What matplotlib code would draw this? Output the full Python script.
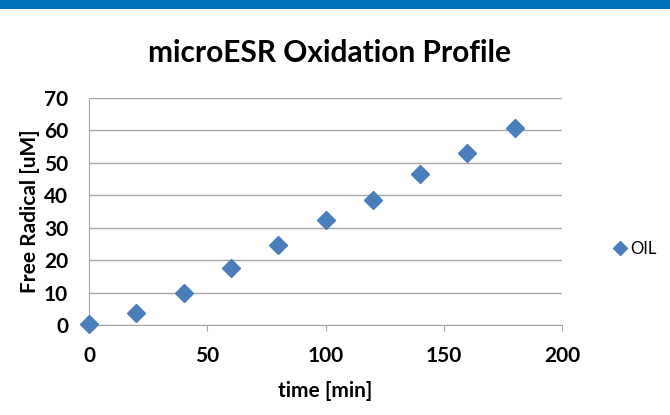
import matplotlib
matplotlib.use("Agg")
import matplotlib.pyplot as plt
from matplotlib.patches import Rectangle

time_min = [0, 20, 40, 60, 80, 100, 120, 140, 160, 180]
free_radical = [0.3, 3.7, 9.9, 17.6, 24.7, 32.3, 38.7, 46.6, 53.0, 60.8]
series_name = "OIL"
x_ticks = [0, 50, 100, 150, 200]
y_ticks = [0, 10, 20, 30, 40, 50, 60, 70]

plt.rcParams['font.family'] = ['Lato', 'DejaVu Sans']

fig = plt.figure(figsize=(6.7, 4.15), dpi=100)
fig.patch.set_facecolor('white')
# top blue bar
fig.patches.append(Rectangle((0, 1 - 9/415), 1, 9/415, transform=fig.transFigure,
                             facecolor='#0070BA', edgecolor='none', zorder=0))

ax = fig.add_axes([89/670, 1 - 325/415, (562 - 89)/670, (325 - 98)/415])
ax.plot(time_min, free_radical, linestyle='none', marker='D', markersize=9,
        color='#4A7EBB', label=series_name, clip_on=False, zorder=3)

ax.set_xlim(0, 200)
ax.set_ylim(0, 70)
ax.set_xticks(x_ticks)
ax.set_yticks(y_ticks)
ax.set_xticklabels([str(v) for v in x_ticks], fontsize=15, fontweight='bold')
ax.set_yticklabels([str(v) for v in y_ticks], fontsize=15, fontweight='bold')
ax.grid(axis='y', color='#A6A6A6', linewidth=1)
ax.set_axisbelow(True)
for s in ['top', 'right']:
    ax.spines[s].set_visible(False)
for s in ['left', 'bottom']:
    ax.spines[s].set_color('#A6A6A6')
ax.tick_params(axis='x', length=4, color='#A6A6A6', pad=11)
ax.tick_params(axis='y', length=0, pad=15)

ax.set_xlabel("time [min]", fontsize=15, fontweight='bold', labelpad=11)
ax.set_ylabel("Free Radical [uM]", fontsize=15, fontweight='bold', labelpad=3)
fig.text(329/670, 1 - 53/415, "microESR Oxidation Profile", fontsize=21.5,
         fontweight='bold', ha='center', va='center')

leg = ax.legend(loc='center left', bbox_to_anchor=(1.08, 0.335), frameon=False,
                fontsize=12, handlelength=0.6, handletextpad=0.3, markerscale=0.75)

fig.savefig("out.png", dpi=100, facecolor='white')
